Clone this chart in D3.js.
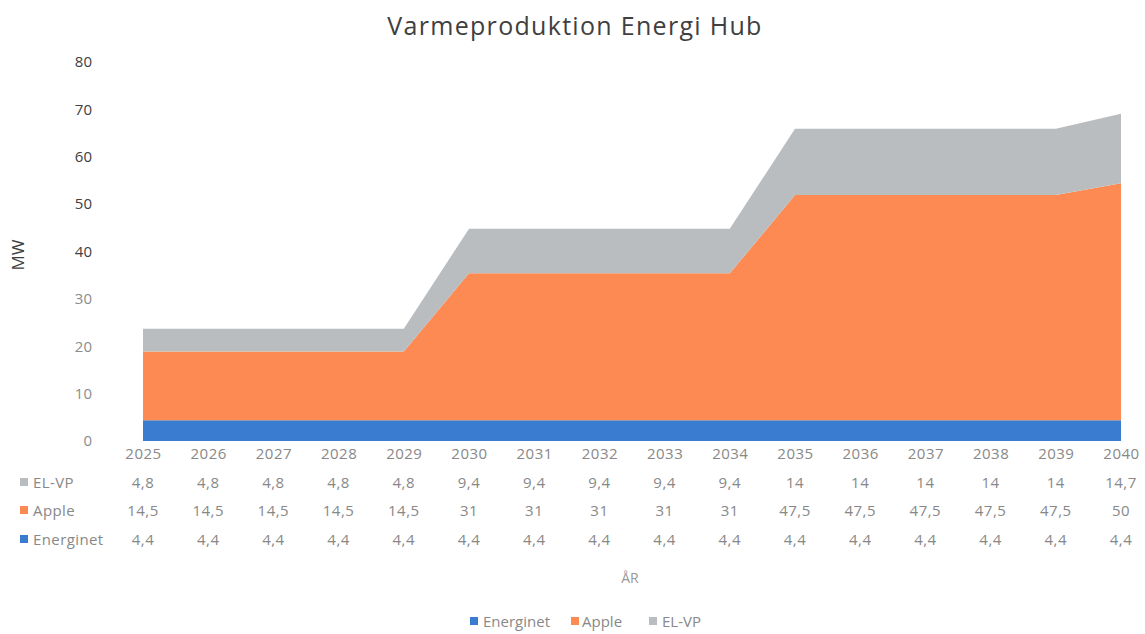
<!DOCTYPE html>
<html><head><meta charset="utf-8">
<script src="https://cdn.jsdelivr.net/npm/d3@7"></script>
<style>body{margin:0;background:#fff}svg{display:block}text{font-family:"Open Sans","Noto Sans",sans-serif}</style>
</head><body><svg id="c" width="1145" height="634"></svg>
<script>
const years = ["2025","2026","2027","2028","2029","2030","2031","2032","2033","2034","2035","2036","2037","2038","2039","2040"];
const energinet = [4.4,4.4,4.4,4.4,4.4,4.4,4.4,4.4,4.4,4.4,4.4,4.4,4.4,4.4,4.4,4.4];
const apple = [14.5,14.5,14.5,14.5,14.5,31,31,31,31,31,47.5,47.5,47.5,47.5,47.5,50];
const elvp = [4.8,4.8,4.8,4.8,4.8,9.4,9.4,9.4,9.4,9.4,14,14,14,14,14,14.7];
const yTicks = [0,10,20,30,40,50,60,70,80];
const seriesNames = ["Energinet","Apple","EL-VP"];
const colors = {"Energinet":"#3a7dd0","Apple":"#fd8a53","EL-VP":"#babdbf"};

const svg = d3.select("#c");
const x = d3.scalePoint().domain(years).range([143,1121]);
const y = d3.scaleLinear().domain([0,80]).range([441,62]);

const rows = years.map((yr,i)=>({year:yr,"Energinet":energinet[i],"Apple":apple[i],"EL-VP":elvp[i]}));
const stack = d3.stack().keys(seriesNames)(rows);
const area = d3.area().x(d=>x(d.data.year)).y0(d=>y(d[0])).y1(d=>y(d[1]));
svg.append("g").selectAll("path").data(stack).join("path")
  .attr("d",area).attr("fill",d=>colors[d.key]);

// Title
svg.append("text").attr("x",575).attr("y",35).attr("text-anchor","middle")
  .attr("font-size",25).attr("letter-spacing",1.3).attr("fill","#404040").text("Varmeproduktion Energi Hub");

// Y axis labels
const yAxis = d3.axisLeft(y).tickValues(yTicks).tickSize(0).tickPadding(0);
const ya = svg.append("g").attr("transform","translate(92,0)").call(yAxis);
ya.select(".domain").remove();
ya.selectAll("text").attr("font-size",15).attr("font-family","'Open Sans',sans-serif")
  .attr("fill",d=>d>=40?"#404040":"#8c8c8c");

svg.append("text").attr("transform","translate(24,255) rotate(-90)").attr("text-anchor","middle")
  .attr("font-size",17).attr("fill","#404040").text("MW");

// X axis labels (years)
const xAxis = d3.axisBottom(x).tickSize(0).tickPadding(0);
const xa = svg.append("g").attr("transform","translate(0,448)").call(xAxis);
xa.select(".domain").remove();
xa.selectAll("text").attr("font-size",15).attr("letter-spacing",0.5).attr("font-family","'Open Sans',sans-serif").attr("fill","#888");

// Data table
const tableRows = [
  {name:"EL-VP",vals:elvp,y:483},
  {name:"Apple",vals:apple,y:511},
  {name:"Energinet",vals:energinet,y:540}
];
const fmt = v => String(v).replace(".",",");
tableRows.forEach(r=>{
  svg.append("rect").attr("x",20).attr("y",r.y-5).attr("width",8).attr("height",8).attr("fill",colors[r.name]);
  svg.append("text").attr("x",33).attr("y",r.y+5).attr("font-size",15).attr("letter-spacing",0.4).attr("fill","#888").text(r.name);
  svg.append("g").selectAll("text").data(r.vals).join("text")
    .attr("x",(d,i)=>x(years[i])).attr("y",r.y+5).attr("text-anchor","middle")
    .attr("font-size",15).attr("letter-spacing",0.5).attr("fill","#888").text(fmt);
});

svg.append("text").attr("x",630).attr("y",583).attr("text-anchor","middle")
  .attr("font-size",14).attr("fill","#999").text("ÅR");

// Legend
const leg = [{n:"Energinet",x:470,t:483},{n:"Apple",x:571,t:582},{n:"EL-VP",x:649,t:662}];
leg.forEach(l=>{
  svg.append("rect").attr("x",l.x).attr("y",617).attr("width",8).attr("height",8).attr("fill",colors[l.n]);
  svg.append("text").attr("x",l.t).attr("y",627).attr("font-size",15).attr("fill","#888").text(l.n);
});
</script></body></html>
